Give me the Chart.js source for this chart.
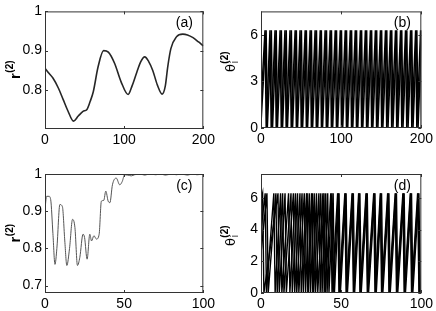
<!DOCTYPE html>
<html>
<head>
<meta charset="utf-8">
<script src="https://cdn.jsdelivr.net/npm/chart.js@4.4.1/dist/chart.umd.min.js"></script>
<style>
  body { margin: 0; background: #fff; }
  #wrap { position: relative; width: 436px; height: 311px; background: #fff; }
  canvas { position: absolute; }
</style>
</head>
<body>
<div id="wrap">
  <canvas id="pa" width="218" height="155" style="left:0;top:0"></canvas>
  <canvas id="pb" width="218" height="155" style="left:218px;top:0"></canvas>
  <canvas id="pc" width="218" height="156" style="left:0;top:155px"></canvas>
  <canvas id="pd" width="218" height="156" style="left:218px;top:155px"></canvas>
</div>
<script>
// ---- data ----
const TWO_PI = 6.283;

// (a) r(2) over t = 0..200
const aT = [0, 5, 10, 17, 23, 29, 36, 42, 48, 53, 57, 61, 67, 74, 80, 88, 96, 105, 110, 116, 121, 126, 131, 136, 142, 148, 152, 155, 159, 166, 174, 180, 187, 194, 200];
const aR = [0.855, 0.842, 0.83, 0.804, 0.775, 0.746, 0.72, 0.733, 0.745, 0.75, 0.77, 0.795, 0.858, 0.9, 0.896, 0.867, 0.821, 0.788, 0.81, 0.845, 0.872, 0.884, 0.872, 0.85, 0.812, 0.789, 0.81, 0.858, 0.905, 0.935, 0.942, 0.94, 0.933, 0.922, 0.912];

// (b) phase wrap times (where theta hits 2*pi), t = 0..200
const bStartA = 1.5;
const bTopsA = [5.0, 11.2, 17.5, 23.8, 29.9, 36.2, 42.6, 48.7, 55.1, 61.3, 67.5, 73.9, 80.0, 86.3, 92.6, 98.9, 105.1, 111.4, 117.6, 124.0, 130.2, 136.5, 142.7, 149.0, 155.3, 161.5, 167.8, 174.1, 180.3, 186.6, 192.9, 199.1];
const bStartB = 0.3;
const bTopsB = [6.4, 12.9, 19.0, 25.4, 31.5, 37.9, 44.1, 50.4, 56.6, 62.9, 69.2, 75.3, 81.7, 87.9, 94.2, 100.4, 106.7, 113.0, 119.2, 125.5, 131.8, 138.0, 144.3, 150.5, 156.9, 163.1, 169.3, 175.6, 181.9, 188.1, 194.4, 200.6];
const bStep = 1.5;

// (c) r(2) over t = 0..100
const cT = [0, 1, 2.5, 3.6, 5, 6.3, 7.5, 9.4, 11, 12.5, 13.8, 15.5, 17.4, 18.9, 20.5, 22, 24, 25, 26.6, 28.3, 29.4, 30.9, 32.5, 34.2, 35.6, 37.1, 38.4, 39.9, 41, 42.6, 45, 47.2, 48.8, 50.3, 52.4, 54.5, 56.6, 60, 63, 66, 70, 73, 76, 80, 83, 86, 90, 93, 96, 100];
const cR = [0.905, 0.94, 0.94, 0.931, 0.84, 0.757, 0.8, 0.918, 0.912, 0.82, 0.754, 0.8, 0.878, 0.856, 0.754, 0.776, 0.838, 0.829, 0.771, 0.838, 0.82, 0.834, 0.825, 0.838, 0.927, 0.929, 0.954, 0.927, 0.923, 0.971, 0.989, 0.971, 0.98, 0.998, 0.997, 0.995, 0.998, 1.0, 0.997, 1.0, 0.998, 1.0, 0.997, 1.0, 0.998, 1.0, 0.997, 1.0, 0.998, 1.0];

// (d) phase wrap times, t = 0..100 (three oscillators, spread until ~45)
const dStartA = 2.5;
const dTopsA = [3.7, 9.3, 13.5, 18.7, 22.8, 27.0, 30.1, 33.2, 37.3, 40.4, 44.2, 48.2, 52.6, 57.1, 61.2, 65.8, 70.6, 74.7, 79.3, 84.0, 88.8, 93.4, 98.0];
const dStartB = 5.8;
const dTopsB = [1.0, 10.6, 15.0, 20.2, 24.3, 28.4, 31.5, 34.6, 38.6, 41.6, 45.0, 48.7, 53.1, 57.6, 61.7, 66.3, 71.1, 75.2, 79.8, 84.5, 89.3, 93.9, 98.5];
const dStartC = 4.0;
const dTopsC = [2.6, 8.0, 12.2, 17.2, 21.5, 25.6, 28.8, 32.0, 36.1, 39.3, 43.5, 47.8, 52.3, 56.8, 60.9, 65.5, 70.3, 74.4, 79.0, 83.7, 88.5, 93.1, 97.7];
const dStep = 0.8;

// tick labels
const ticksX200 = [0, 100, 200];
const ticksX100 = [0, 50, 100];
const ticksRa = [0.8, 0.9, 1];
const ticksRc = [0.7, 0.8, 0.9, 1];
const ticksThB = [0, 3, 6];
const ticksThD = [0, 2, 4, 6];

// ---- helpers ----
const pairs = (xs, ys) => xs.map((x, i) => ({ x: x, y: ys[i] }));

// phase trace: climbs to 2pi at each wrap time, then drops back to 0 one sample later
function wrapped(start, tops, step) {
  const pts = [{ x: 0, y: start }];
  tops.forEach(t => {
    pts.push({ x: t, y: TWO_PI });
    pts.push({ x: t + step, y: 0 });
  });
  return pts;
}

Chart.defaults.font.family = '"Liberation Sans", Arial, sans-serif';
Chart.defaults.font.size = 14;
Chart.defaults.color = '#000';

// frame, inward ticks, panel tag and rotated y label
const panelPlugin = {
  id: 'panel',
  afterDatasetsDraw(chart, args, o) {
    const { ctx, chartArea: a, scales } = chart;
    ctx.save();
    ctx.strokeStyle = '#333';
    ctx.lineWidth = 1;
    ctx.strokeRect(a.left + 0.5, a.top + 0.5, a.right - a.left - 1, a.bottom - a.top - 1);

    ctx.beginPath();
    scales.x.ticks.forEach(t => {
      const px = Math.round(scales.x.getPixelForValue(t.value)) + 0.5;
      ctx.moveTo(px, a.bottom); ctx.lineTo(px, a.bottom - 3);
      ctx.moveTo(px, a.top); ctx.lineTo(px, a.top + 3);
    });
    scales.y.ticks.forEach(t => {
      const py = Math.round(scales.y.getPixelForValue(t.value)) + 0.5;
      ctx.moveTo(a.left, py); ctx.lineTo(a.left + 3, py);
      ctx.moveTo(a.right, py); ctx.lineTo(a.right - 3, py);
    });
    ctx.stroke();

    ctx.fillStyle = '#000';
    ctx.font = '14px "Liberation Sans", Arial, sans-serif';
    ctx.textAlign = 'center';
    ctx.textBaseline = 'middle';
    ctx.fillText(o.tag, a.right - 19, a.top + 12);

    // y label, rotated
    ctx.translate(o.labX, o.labY);
    ctx.rotate(-Math.PI / 2);
    ctx.textAlign = 'left';
    ctx.textBaseline = 'alphabetic';
    ctx.font = o.mainFont;
    const w = ctx.measureText(o.main).width;
    ctx.font = 'bold 10px "Liberation Sans", Arial, sans-serif';
    const ws = ctx.measureText('(2)').width;
    let x0 = -(w + ws) / 2;
    ctx.font = o.mainFont;
    ctx.fillText(o.main, x0, 0);
    ctx.font = 'bold 10px "Liberation Sans", Arial, sans-serif';
    ctx.fillText('(2)', x0 + w + 0.5, -7);
    if (o.sub) {
      ctx.font = '10px "Liberation Sans", Arial, sans-serif';
      ctx.fillText(o.sub, x0 + w + 1, 3);
    }
    ctx.restore();
  }
};

function makePanel(id, datasets, xMax, yMin, yMax, xTicks, yTicks, box, panel) {
  new Chart(document.getElementById(id), {
    type: 'line',
    data: { datasets: datasets },
    options: {
      responsive: false,
      animation: false,
      layout: { padding: { top: box.top, right: box.right, left: 0, bottom: 0 } },
      plugins: { legend: { display: false }, tooltip: { enabled: false }, panel: panel },
      elements: { point: { radius: 0 } },
      scales: {
        x: {
          type: 'linear', min: 0, max: xMax,
          afterBuildTicks: s => { s.ticks = xTicks.map(v => ({ value: v })); },
          afterFit: s => { s.height = box.bottom; },
          grid: { display: false, drawTicks: false },
          border: { display: false },
          ticks: { padding: 3, maxRotation: 0, callback: v => String(v) }
        },
        y: {
          type: 'linear', min: yMin, max: yMax,
          afterBuildTicks: s => { s.ticks = yTicks.map(v => ({ value: v })); },
          afterFit: s => { s.width = box.left; },
          grid: { display: false, drawTicks: false },
          border: { display: false },
          ticks: { padding: 3, callback: v => String(v) }
        }
      }
    },
    plugins: [panelPlugin]
  });
}

const rFont = 'bold 15px "Liberation Sans", Arial, sans-serif';
const thFont = '13px "DejaVu Sans", sans-serif';

makePanel('pa', [{
  data: pairs(aT, aR), borderColor: '#262626', borderWidth: 1.6,
  cubicInterpolationMode: 'monotone'
}], 200, 0.7, 1, ticksX200, ticksRa,
  { left: 45, right: 14, top: 10, bottom: 26 },
  { tag: '(a)', main: 'r', mainFont: rFont, labX: 20, labY: 70 });

makePanel('pb', [
  { data: wrapped(bStartA, bTopsA, bStep), borderColor: '#000', borderWidth: 1.5, tension: 0 },
  { data: wrapped(bStartB, bTopsB, bStep), borderColor: '#000', borderWidth: 1.5, tension: 0 }
], 200, 0, 7.5, ticksX200, ticksThB,
  { left: 43, right: 14, top: 10, bottom: 27 },
  { tag: '(b)', main: 'θ', mainFont: thFont, sub: 'i', labX: 17, labY: 62 });

makePanel('pc', [{
  data: pairs(cT, cR), borderColor: '#555', borderWidth: 1,
  cubicInterpolationMode: 'monotone'
}], 100, 0.68, 1, ticksX100, ticksRc,
  { left: 45, right: 14, top: 19, bottom: 18 },
  { tag: '(c)', main: 'r', mainFont: rFont, labX: 20, labY: 78.5 });

makePanel('pd', [
  { data: wrapped(dStartA, dTopsA, dStep), borderColor: '#000', borderWidth: 1.4, tension: 0 },
  { data: wrapped(dStartB, dTopsB, dStep), borderColor: '#000', borderWidth: 1.4, tension: 0 },
  { data: wrapped(dStartC, dTopsC, dStep), borderColor: '#000', borderWidth: 1.4, tension: 0 }
], 100, 0, 7.5, ticksX100, ticksThD,
  { left: 43, right: 14, top: 19, bottom: 18 },
  { tag: '(d)', main: 'θ', mainFont: thFont, sub: 'i', labX: 17, labY: 81 });
</script>
</body>
</html>
